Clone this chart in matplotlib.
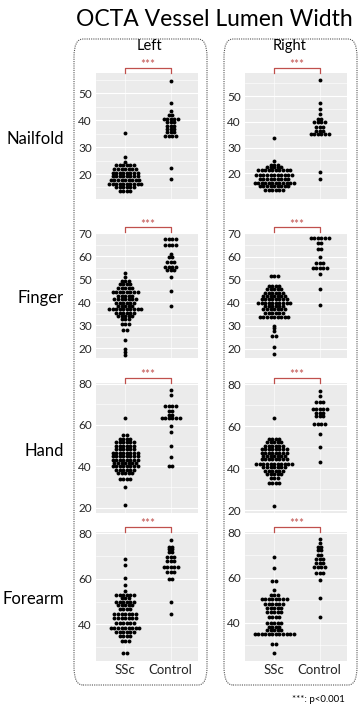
import numpy as np
import matplotlib
matplotlib.use("Agg")
import matplotlib.pyplot as plt
from matplotlib.patches import FancyBboxPatch

plt.rcParams["font.family"] = ["Lato", "DejaVu Sans"]

# ---- data: row value -> number of dots in that row ----
# Nailfold
nail_L_ssc_val = [35.4, 26.3, 24.6, 23.3, 21.9, 20.5, 19.1, 17.8, 16.4, 15.0, 13.7]
nail_L_ssc_n   = [1, 1, 1, 6, 7, 8, 8, 9, 10, 6, 4]
nail_L_ctl_val = [54.6, 46.6, 43.4, 42.1, 40.6, 39.4, 38.0, 36.8, 35.5, 34.3, 22.1, 18.1]
nail_L_ctl_n   = [1, 1, 1, 2, 5, 3, 3, 3, 3, 4, 1, 1]
nail_R_ssc_val = [33.7, 24.7, 23.2, 22.3, 21.1, 19.4, 17.8, 16.4, 14.9, 13.4]
nail_R_ssc_n   = [1, 1, 3, 5, 10, 11, 9, 12, 9, 6]
nail_R_ctl_val = [56.4, 47.5, 44.9, 43.0, 41.3, 39.8, 38.1, 36.6, 35.2, 20.6, 17.8]
nail_R_ctl_n   = [1, 1, 1, 1, 2, 4, 3, 3, 6, 1, 1]

# Finger
fing_L_ssc_val = [52.6, 51.2, 49.5, 48.0, 46.3, 44.7, 43.0, 41.4, 39.8, 38.4, 37.0,
                  35.5, 34.2, 32.9, 30.8, 27.9, 23.6, 19.7, 18.6, 17.3]
fing_L_ssc_n   = [1, 1, 3, 4, 5, 8, 5, 7, 6, 5, 10, 6, 5, 3, 3, 2, 1, 1, 1, 1]
fing_L_ctl_val = [67.8, 65.1, 60.9, 59.8, 57.4, 55.5, 54.1, 51.2, 45.1, 38.5]
fing_L_ctl_n   = [4, 4, 1, 2, 3, 4, 3, 1, 1, 1]
fing_R_ssc_val = [51.6, 47.2, 45.8, 44.4, 42.9, 41.5, 39.9, 38.5, 37.1, 35.7, 34.0,
                  29.9, 28.9, 27.9, 25.5, 21.0, 17.8]
fing_R_ssc_n   = [3, 4, 5, 6, 7, 8, 10, 6, 7, 6, 9, 1, 1, 1, 2, 1, 1]
fing_R_ctl_val = [68.1, 65.7, 63.2, 59.6, 57.3, 55.2, 52.3, 45.8, 39.0]
fing_R_ctl_n   = [6, 2, 2, 1, 3, 5, 1, 1, 1]

# Hand
hand_L_ssc_val = [63.4, 55.1, 53.2, 51.6, 49.9, 48.3, 46.4, 44.8, 43.1, 41.5, 39.9,
                  38.3, 36.7, 33.8, 30.2, 21.3]
hand_L_ssc_n   = [1, 2, 4, 6, 6, 6, 8, 8, 8, 7, 8, 6, 5, 4, 1, 1]
hand_L_ctl_val = [76.8, 74.4, 69.0, 66.6, 65.0, 63.4, 59.6, 56.6, 49.9, 44.4, 40.2]
hand_L_ctl_n   = [1, 1, 4, 2, 2, 6, 1, 1, 1, 1, 2]
hand_R_ssc_val = [63.7, 54.1, 52.5, 50.7, 49.1, 47.5, 45.9, 44.3, 42.1, 40.5, 38.9,
                  37.3, 35.4, 32.8, 21.9]
hand_R_ssc_n   = [1, 4, 5, 6, 8, 8, 7, 8, 11, 7, 6, 5, 3, 4, 1]
hand_R_ctl_val = [77.0, 74.4, 71.4, 68.0, 66.4, 64.8, 61.3, 56.5, 50.1, 42.9]
hand_R_ctl_n   = [1, 1, 3, 5, 3, 3, 4, 1, 1, 1]

# Forearm
fore_L_ssc_val = [68.9, 66.1, 60.5, 57.3, 54.7, 52.9, 51.4, 50.0, 48.5, 46.7, 44.5,
                  42.6, 40.4, 38.2, 36.6, 34.9, 32.8, 27.3]
fore_L_ssc_n   = [1, 1, 1, 1, 1, 6, 3, 6, 5, 4, 7, 7, 6, 9, 6, 4, 3, 2]
fore_L_ctl_val = [77.1, 74.1, 73.0, 71.9, 69.7, 67.8, 65.3, 63.2, 59.8, 50.0, 44.5]
fore_L_ctl_n   = [1, 2, 2, 2, 3, 3, 5, 3, 2, 1, 1]
fore_R_ssc_val = [69.0, 64.3, 58.4, 54.4, 52.2, 50.3, 48.1, 46.3, 44.7, 42.6, 40.0,
                  38.2, 36.8, 35.1, 30.4, 26.5]
fore_R_ssc_n   = [1, 1, 2, 1, 3, 8, 6, 5, 5, 4, 5, 4, 5, 12, 2, 1]
fore_R_ctl_val = [77.1, 75.6, 73.8, 72.1, 70.1, 68.4, 66.5, 64.7, 62.1, 59.1, 51.0, 42.6]
fore_R_ctl_n   = [1, 1, 2, 2, 2, 3, 3, 4, 3, 1, 1, 1]

groups = ["SSc", "Control"]
sides = ["Left", "Right"]
regions = ["Nailfold", "Finger", "Hand", "Forearm"]

yticks = {
    "Nailfold": [20, 30, 40, 50],
    "Finger": [20, 30, 40, 50, 60, 70],
    "Hand": [20, 40, 60, 80],
    "Forearm": [40, 60, 80],
}
ylims = {
    ("Nailfold", "Left"): (10.7, 57.6), ("Nailfold", "Right"): (10.0, 59.0),
    ("Finger", "Left"): (15.8, 70.2), ("Finger", "Right"): (16.1, 70.2),
    ("Hand", "Left"): (17.4, 80.3), ("Hand", "Right"): (18.7, 80.6),
    ("Forearm", "Left"): (23.9, 80.6), ("Forearm", "Right"): (22.9, 80.3),
}

data = {
    ("Nailfold", "Left"): [(nail_L_ssc_val, nail_L_ssc_n), (nail_L_ctl_val, nail_L_ctl_n)],
    ("Nailfold", "Right"): [(nail_R_ssc_val, nail_R_ssc_n), (nail_R_ctl_val, nail_R_ctl_n)],
    ("Finger", "Left"): [(fing_L_ssc_val, fing_L_ssc_n), (fing_L_ctl_val, fing_L_ctl_n)],
    ("Finger", "Right"): [(fing_R_ssc_val, fing_R_ssc_n), (fing_R_ctl_val, fing_R_ctl_n)],
    ("Hand", "Left"): [(hand_L_ssc_val, hand_L_ssc_n), (hand_L_ctl_val, hand_L_ctl_n)],
    ("Hand", "Right"): [(hand_R_ssc_val, hand_R_ssc_n), (hand_R_ctl_val, hand_R_ctl_n)],
    ("Forearm", "Left"): [(fore_L_ssc_val, fore_L_ssc_n), (fore_L_ctl_val, fore_L_ctl_n)],
    ("Forearm", "Right"): [(fore_R_ssc_val, fore_R_ssc_n), (fore_R_ctl_val, fore_R_ctl_n)],
}

# ---- layout (pixel based) ----
W, H = 360, 709
fig = plt.figure(figsize=(W / 100, H / 100), dpi=100)

col_x = {"Left": 96, "Right": 245}
panel_w = 102
row_y = {"Nailfold": (73, 199), "Finger": (233, 358), "Hand": (383, 513), "Forearm": (532, 661)}

red = "#C0504D"
txt = "#262626"
DX = 0.078

def px_box(x0, y0, w, h):
    return [x0 / W, 1 - (y0 + h) / H, w / W, h / H]

# dotted rounded frames for each side
for x0, x1 in [(74, 207), (224, 357)]:
    box = FancyBboxPatch((x0 / W, 1 - 685 / H), (x1 - x0) / W, (685 - 39) / H,
                         boxstyle="round,pad=0,rounding_size=0.025",
                         transform=fig.transFigure, fill=False,
                         ec="#555555", lw=0.8, ls=(0, (1, 1)))
    fig.patches.append(box)

for region in regions:
    top, bot = row_y[region]
    for side in sides:
        ax = fig.add_axes(px_box(col_x[side], top, panel_w, bot - top))
        ax.set_facecolor("#EBEBEB")
        for s in ax.spines.values():
            s.set_visible(False)

        for i, (vals, cnts) in enumerate(data[(region, side)]):
            for v, n in zip(vals, cnts):
                xs = i + (np.arange(n) - (n - 1) / 2) * DX
                ax.plot(xs, [v] * n, "o", color="black", ms=2.8, mew=0, zorder=3)

        ticks = yticks[region]
        ax.set_yticks(ticks)
        step = ticks[1] - ticks[0]
        ax.set_yticks([t + step / 2 for t in [ticks[0] - step] + ticks], minor=True)
        ax.set_xticks([0, 1])
        ax.set_xlim(-0.64, 1.6)
        ax.set_ylim(*ylims[(region, side)])
        ax.grid(True, which="major", axis="y", color="white", lw=0.8, zorder=0)
        ax.grid(True, which="minor", axis="y", color="white", lw=0.4, zorder=0)
        for xv in range(2):
            ax.axvline(xv, color="white", lw=0.4, zorder=0)
        ax.set_axisbelow(True)
        ax.tick_params(axis="y", which="both", length=0, pad=3, labelsize=8.5, labelcolor=txt)
        if region == "Forearm":
            ax.set_xticklabels(groups, fontsize=9.5, color=txt)
            ax.tick_params(axis="x", length=0, pad=2)
        else:
            ax.set_xticklabels([])
            ax.tick_params(axis="x", length=0)

        # significance bracket
        h = bot - top
        tr = ax.get_xaxis_transform()
        yb = 1 + 5.5 / h
        ax.plot([0, 0, 1, 1], [1 + 0.5 / h, yb, yb, 1 + 0.5 / h], color=red, lw=0.9,
                transform=tr, clip_on=False)
        ax.text(0.5, yb - 2.5 / h, "***", color=red, fontsize=8.5, ha="center", va="bottom",
                transform=tr)

    fig.text(64 / W, 1 - ((top + bot) / 2 + 3) / H, region, ha="right", va="center",
             fontsize=12, color="black")

fig.text(214 / W, 1 - 19 / H, "OCTA Vessel Lumen Width", ha="center", va="center",
         fontsize=16.5, color="black")
fig.text(149 / W, 1 - 46 / H, "Left", ha="center", va="center", fontsize=10.5, color="black")
fig.text(290 / W, 1 - 46 / H, "Right", ha="center", va="center", fontsize=10.5, color="black")
fig.text(345 / W, 1 - 699 / H, "***: p<0.001", ha="right", va="center", fontsize=7,
         color="black")

fig.savefig("out.png", dpi=100)
